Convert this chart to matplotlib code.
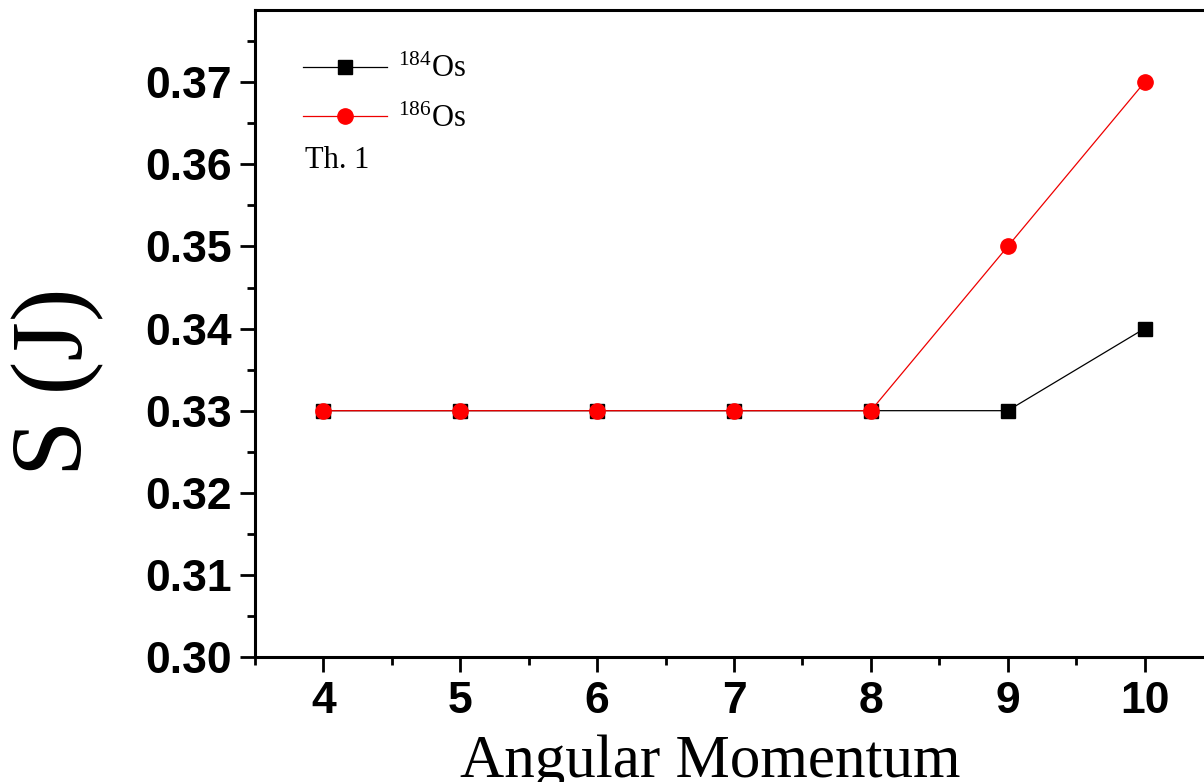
import matplotlib
matplotlib.use("Agg")
import matplotlib.pyplot as plt
from matplotlib.ticker import MultipleLocator

# angular momentum values
spin = [4, 5, 6, 7, 8, 9, 10]
s_os184 = [0.33, 0.33, 0.33, 0.33, 0.33, 0.33, 0.34]
s_os186 = [0.33, 0.33, 0.33, 0.33, 0.33, 0.35, 0.37]

plt.rcParams['mathtext.fontset'] = 'custom'
plt.rcParams['mathtext.rm'] = 'Liberation Serif'

fig = plt.figure(figsize=(12.04, 7.82), dpi=100)
# right spine sits just past the right edge of the picture
ax = fig.add_axes([255 / 1204, 1 - 657 / 782, (1213 - 255) / 1204, (657 - 10) / 782])

ax.plot(spin, s_os184, '-', color='black', lw=0.9, marker='s', ms=10,
        label=r'$\mathregular{^{184}}$Os')
ax.plot(spin, s_os186, '-', color='#ee0000', lw=0.9, marker='o', ms=11,
        mfc='red', mec='red', label=r'$\mathregular{^{186}}$Os')

ax.set_xlim(3.5, 10.5)
ax.set_ylim(0.30, 0.3788)
ax.xaxis.set_major_locator(MultipleLocator(1))
ax.xaxis.set_minor_locator(MultipleLocator(0.5))
ax.yaxis.set_major_locator(MultipleLocator(0.01))
ax.yaxis.set_minor_locator(MultipleLocator(0.005))
ax.yaxis.set_major_formatter(plt.FormatStrFormatter('%.2f'))

ax.tick_params(which='major', direction='out', length=11, width=2,
               labelsize=32, pad=6)
ax.tick_params(which='minor', direction='out', length=6, width=2)
for lab in ax.get_xticklabels() + ax.get_yticklabels():
    lab.set_fontfamily('Liberation Sans')
    lab.set_fontweight('bold')
for sp in ax.spines.values():
    sp.set_linewidth(2.2)

leg = ax.legend(loc='upper left', bbox_to_anchor=(0.050, 0.930), frameon=False,
                borderaxespad=0, borderpad=0,
                handlelength=2.75, handletextpad=0.35, labelspacing=0.65,
                prop={'family': 'Liberation Serif', 'size': 22})
ax.text(0.052, 0.768, 'Th. 1', transform=ax.transAxes,
        family='Liberation Serif', fontsize=22, va='center')

fig.text(58 / 1204, 1 - 382 / 782, 'S (J)', rotation=90, ha='center',
         va='center', family='Liberation Serif', fontsize=73)
fig.text(710 / 1204, 1 - 762 / 782, 'Angular Momentum', ha='center',
         va='center', family='Liberation Serif', fontsize=44)

fig.savefig('out.png', dpi=100)
